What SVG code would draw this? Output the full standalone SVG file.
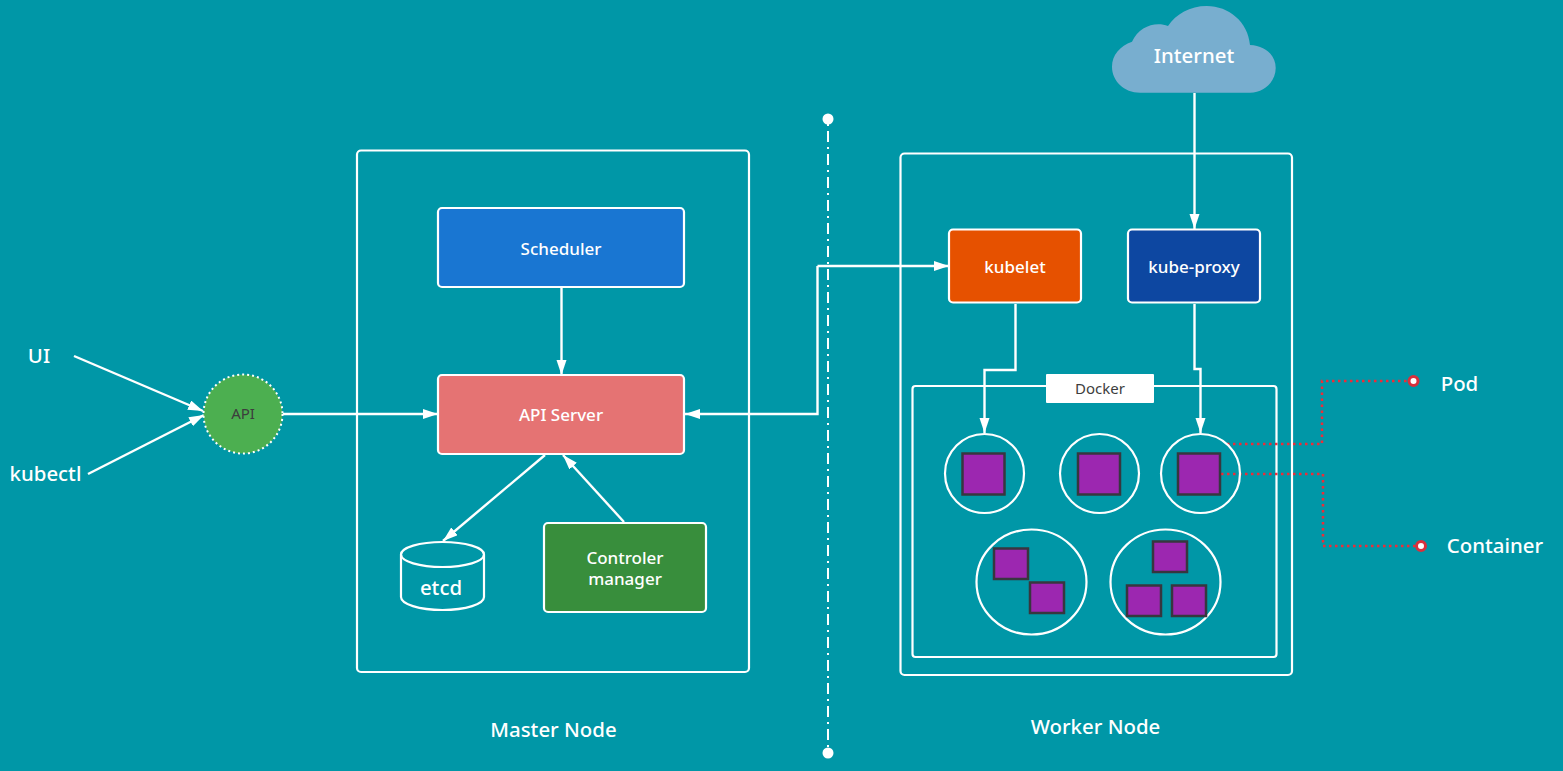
<svg xmlns="http://www.w3.org/2000/svg" width="1563" height="771" viewBox="0 0 1563 771">
<style>
text{font-family:"Noto Sans","Open Sans","Liberation Sans",sans-serif;text-anchor:middle;fill:#fff;font-size:20.400px;font-weight:500}
.box{fill:none;stroke:#fff;stroke-width:2.200}
.node{stroke:#fff;stroke-width:2.200}
.pod{fill:none;stroke:#fff;stroke-width:2.200}
.ctr{fill:#9c27b0;stroke:#37373f;stroke-width:2.500}
.link{fill:none;stroke:#fff;stroke-width:2.400}
.tie{fill:none;stroke:#ee2c38;stroke-width:2.500;stroke-dasharray:2.500 3.500}
.dot{fill:#fff;stroke:#d9303c;stroke-width:3}
text.small{font-size:17px}
text.dark{fill:#3d3d3d;font-size:15px;font-weight:400}
</style>
<defs>
<marker id="arrow" markerUnits="userSpaceOnUse" markerWidth="16" markerHeight="12" refX="15" refY="5" orient="auto">
<path d="M0 0L15 5L0 10Z" fill="#fff"/>
</marker>
</defs>
<rect width="1563" height="771" fill="#0097a7"/>

<!-- enclosing frames -->
<rect class="box" x="357" y="150.500" width="392" height="521.500" rx="4"/>
<rect class="box" x="900.500" y="153.500" width="391.500" height="521.500" rx="4"/>
<rect class="box" x="912.500" y="386" width="364" height="271" rx="3"/>

<!-- connectors -->
<g id="connectors">
<path class="link" d="M74 356L203 411" marker-end="url(#arrow)"/>
<path class="link" d="M88 474L204 415" marker-end="url(#arrow)"/>
<path class="link" d="M283 414H438" marker-end="url(#arrow)"/>
<path class="link" d="M561.500 288V375" marker-end="url(#arrow)"/>
<path class="link" d="M545 455L443 541" marker-end="url(#arrow)"/>
<path class="link" d="M624 522L563 455" marker-end="url(#arrow)"/>
<path class="link" d="M817.500 266V414H685" marker-end="url(#arrow)"/>
<path class="link" d="M817.500 266H949" marker-end="url(#arrow)"/>
<path class="link" d="M1015.500 304V370H984.500V433" marker-end="url(#arrow)"/>
<path class="link" d="M1194.500 304V369H1200.500V433" marker-end="url(#arrow)"/>
<path class="link" d="M1194.500 93V229" marker-end="url(#arrow)"/>
<path fill="none" stroke="#fff" stroke-width="2" stroke-dasharray="2 5 11 5" d="M828 124V748"/>
<circle cx="828" cy="119" r="5.500" fill="#fff"/>
<circle cx="828" cy="753" r="5.500" fill="#fff"/>
<path class="tie" d="M1227 444H1322V381H1408"/>
<path class="tie" d="M1221 474H1323V546H1415"/>
<circle class="dot" cx="1413.500" cy="381" r="4.500"/>
<circle class="dot" cx="1421" cy="546" r="4.500"/>
</g>

<g id="ui"><text x="39" y="363">UI</text></g>
<g id="kubectl"><text x="45.500" y="481">kubectl</text></g>

<g id="api">
<circle cx="243" cy="414" r="39.500" fill="#4caf50" stroke="#fff" stroke-width="2" stroke-dasharray="2 3"/>
<text class="dark" x="243" y="419">API</text>
</g>

<g id="scheduler">
<rect class="node" x="438" y="208" width="246" height="79" rx="4" fill="#1976d2"/>
<text class="small" x="561" y="254.500">Scheduler</text>
</g>
<g id="api-server">
<rect class="node" x="438" y="375" width="246" height="79" rx="4" fill="#e57373"/>
<text class="small" x="561" y="420.500">API Server</text>
</g>
<g id="etcd">
<path d="M401 554.500V597C401 604 419 610 442.500 610S484 604 484 597V554.500" fill="none" stroke="#fff" stroke-width="2.200"/>
<ellipse cx="442.500" cy="554.500" rx="41.500" ry="12.500" fill="none" stroke="#fff" stroke-width="2.200"/>
<text x="441" y="595">etcd</text>
</g>
<g id="controller-manager">
<rect class="node" x="544" y="523" width="162" height="89" rx="4" fill="#388e3c"/>
<text class="small" x="625" y="564">Controler</text>
<text class="small" x="625" y="585">manager</text>
</g>
<g id="kubelet">
<rect class="node" x="949" y="229.500" width="132" height="73" rx="4" fill="#e65100"/>
<text class="small" x="1015" y="272.500">kubelet</text>
</g>
<g id="kube-proxy">
<rect class="node" x="1128" y="229.500" width="132" height="73" rx="4" fill="#0d47a1"/>
<text class="small" x="1194" y="272.500">kube-proxy</text>
</g>
<g id="internet">
<path d="M1140 92.700H1250C1265 92.700 1275.700 81 1275.700 68C1275.700 55 1265 45.500 1250 45C1248 22 1229 6 1206.700 6C1190 6 1176 14 1168 26C1156 21 1139 26 1132 41.700C1120 46 1112 55 1112 66.700C1112 81 1124 92.700 1140 92.700Z" fill="#78aecf"/>
<text x="1194" y="63">Internet</text>
</g>
<g id="docker">
<rect x="1046" y="374" width="108" height="29" rx="1" fill="#fff"/>
<text class="dark" x="1100" y="394">Docker</text>
</g>

<g id="pod-1">
<circle class="pod" cx="984.500" cy="473.500" r="39.500"/>
<rect class="ctr" x="962.500" y="453.500" width="42" height="41"/>
</g>
<g id="pod-2">
<circle class="pod" cx="1099.500" cy="473.500" r="39.500"/>
<rect class="ctr" x="1078" y="453.500" width="42" height="41"/>
</g>
<g id="pod-3">
<circle class="pod" cx="1200.500" cy="473.500" r="39.500"/>
<rect class="ctr" x="1178" y="453.500" width="42" height="41"/>
</g>
<g id="pod-4">
<ellipse class="pod" cx="1031.500" cy="582" rx="55" ry="52.500"/>
<rect class="ctr" x="994" y="548.500" width="34" height="30.500"/>
<rect class="ctr" x="1030" y="582.500" width="34" height="30.500"/>
</g>
<g id="pod-5">
<ellipse class="pod" cx="1165.500" cy="582" rx="55" ry="52.500"/>
<rect class="ctr" x="1153" y="541.500" width="34" height="30.500"/>
<rect class="ctr" x="1127" y="585.500" width="34" height="30.500"/>
<rect class="ctr" x="1172" y="585.500" width="34" height="30.500"/>
</g>

<g id="pod-label"><text x="1459.500" y="391">Pod</text></g>
<g id="container-label"><text x="1495" y="553">Container</text></g>
<g id="master-label"><text x="553.500" y="737">Master Node</text></g>
<g id="worker-label"><text x="1095.500" y="734">Worker Node</text></g>
</svg>
